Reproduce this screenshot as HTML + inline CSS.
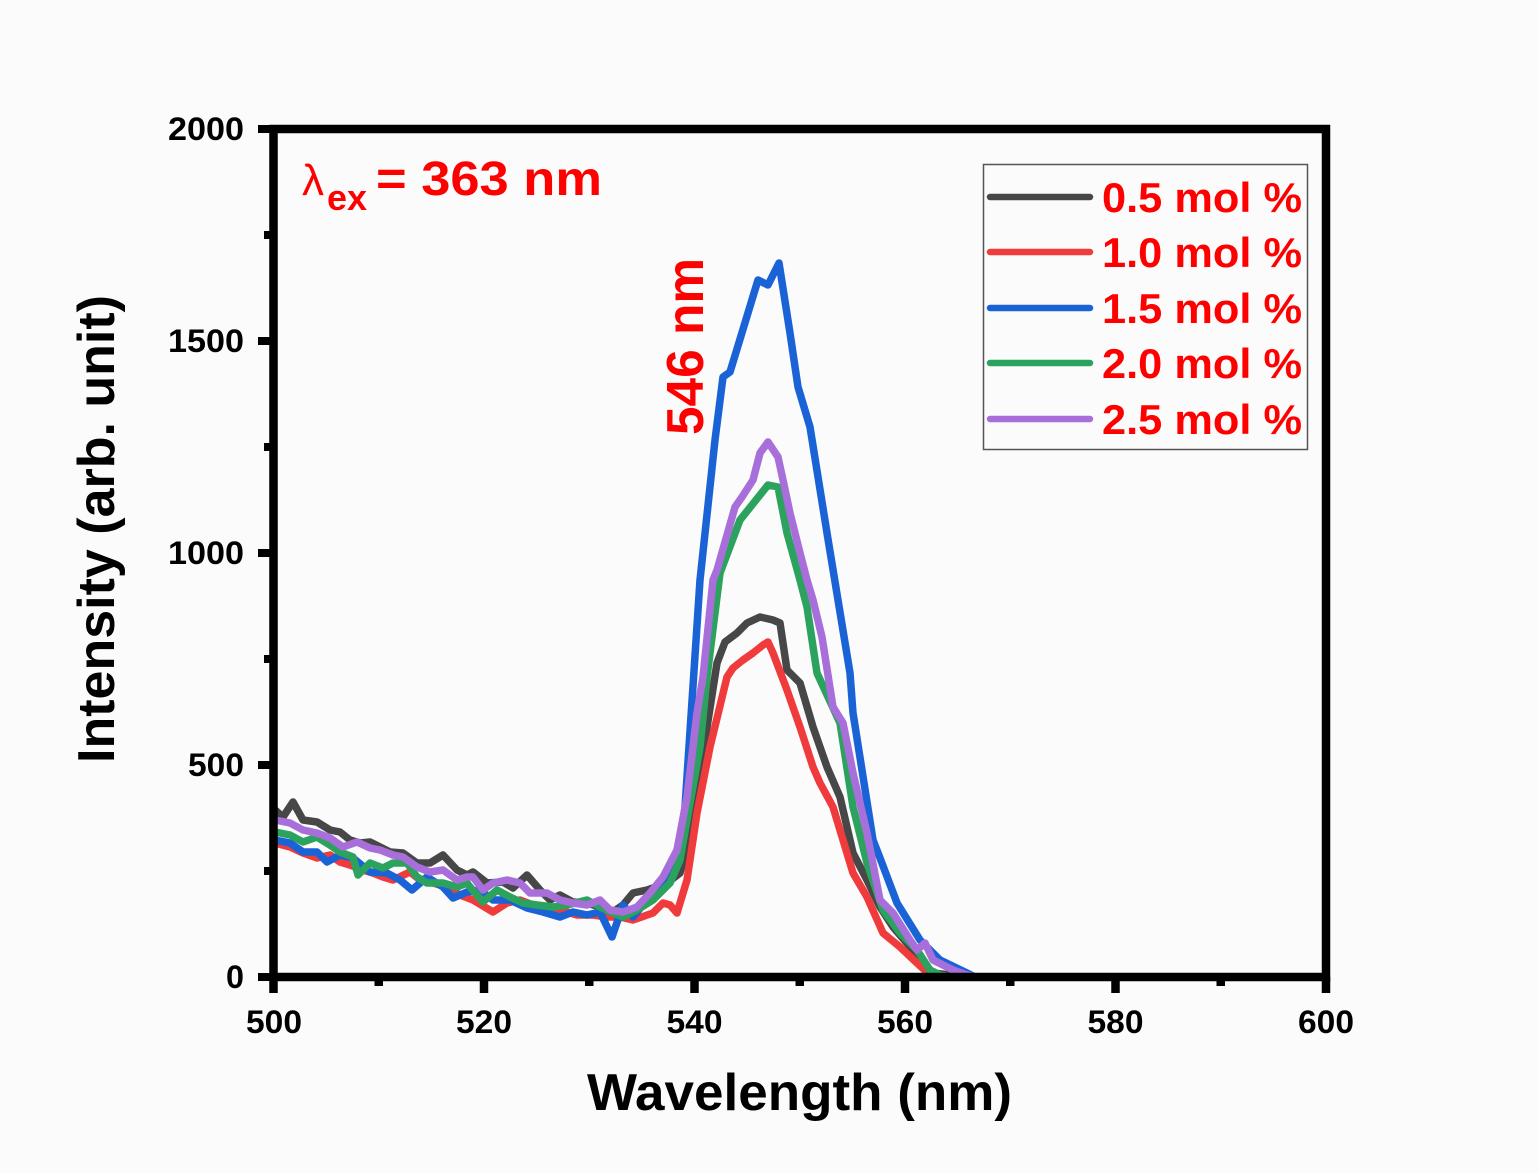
<!DOCTYPE html>
<html>
<head>
<meta charset="utf-8">
<style>
html,body{margin:0;padding:0;background:#fbfbfb;}
svg{display:block;}
text{font-family:"Liberation Sans",Arial,sans-serif;font-weight:bold;}
</style>
</head>
<body>
<svg width="1539" height="1173" viewBox="0 0 1539 1173" xmlns="http://www.w3.org/2000/svg">
<rect x="0" y="0" width="1539" height="1173" fill="#fbfbfb"/>

<!-- curves -->
<g fill="none" stroke-width="7.5" stroke-linejoin="round" stroke-linecap="round">
<polyline stroke="#474747" points="275,810 283,817 293,802 303,820 317,822 330,830 340,832 350,840 360,843 370,842 380,847 390,852 403,853 417,863 430,863 443,855 457,870 467,875 473,872 487,883 503,882 513,888 527,875 540,890 550,900 560,895 573,902 587,903 600,907 613,912 623,905 633,893 647,890 667,883 680,873 690,837 703,753 717,663 725,642 737,633 747,623 760,617 773,620 780,623 787,670 800,683 813,727 827,767 840,797 853,853 867,880 880,907 893,927 913,950 927,967 933,973 950,975 970,977"/>
<polyline stroke="#ef3b3b" points="275,843 290,847 303,853 317,858 330,855 340,862 350,865 363,870 373,873 383,877 393,880 410,872 420,880 433,883 447,887 460,895 473,900 493,912 507,903 520,900 533,905 547,907 560,910 577,915 593,915 607,917 620,917 633,920 653,913 663,903 670,905 677,913 687,880 697,813 710,747 727,677 733,668 743,660 753,653 763,645 768,642 773,653 787,690 800,727 813,767 820,783 833,807 853,873 867,897 883,933 900,947 917,963 930,975 940,977"/>
<polyline stroke="#1a63d6" points="275,840 290,843 303,852 317,852 327,862 340,855 353,858 370,872 387,873 400,880 412,890 427,877 443,887 453,898 467,892 480,890 493,900 510,900 527,908 543,912 560,917 573,912 587,915 600,912 612,937 623,905 633,917 647,900 660,887 672,862 680,845 685,807 700,580 715,440 723,377 730,372 758,280 768,285 779,263 790,333 798,387 810,427 827,533 838,600 850,673 853,713 873,840 880,858 897,903 920,940 940,960 967,973 975,977"/>
<polyline stroke="#2ba35e" points="275,832 290,835 303,842 317,837 330,845 340,852 353,857 358,875 370,863 383,868 393,863 407,863 417,877 427,883 443,883 457,887 467,883 470,887 483,902 497,890 510,897 523,903 537,905 553,907 567,905 587,900 600,907 613,913 623,917 637,910 653,900 670,883 680,860 684,837 700,747 707,677 720,573 740,520 768,485 778,487 787,533 800,580 807,607 817,673 840,723 853,807 867,863 883,910 900,933 917,950 930,970 940,975 950,977"/>
<polyline stroke="#a86fdb" points="275,820 290,823 303,830 317,833 330,838 343,847 357,842 370,848 380,850 393,855 403,857 417,867 430,872 443,870 457,880 467,877 473,877 483,890 493,883 507,880 520,883 530,893 547,893 560,900 573,903 587,905 600,900 610,910 623,912 637,907 650,893 663,877 677,850 687,797 697,713 703,677 713,580 717,570 735,507 742,497 753,480 760,453 768,442 778,457 783,480 790,513 800,553 807,580 813,600 822,637 833,707 843,723 853,773 867,833 880,900 893,913 910,940 917,950 925,943 933,960 953,970 967,975 975,977"/>
</g>

<!-- axes frame -->
<rect x="273.5" y="129" width="1052.5" height="848" fill="none" stroke="#000" stroke-width="8.5"/>

<!-- y ticks -->
<g stroke="#000" stroke-width="8">
<line x1="258" y1="977" x2="274" y2="977"/>
<line x1="258" y1="765" x2="274" y2="765"/>
<line x1="258" y1="553" x2="274" y2="553"/>
<line x1="258" y1="341" x2="274" y2="341"/>
<line x1="258" y1="129" x2="274" y2="129"/>
<line x1="264" y1="871" x2="274" y2="871"/>
<line x1="264" y1="659" x2="274" y2="659"/>
<line x1="264" y1="447" x2="274" y2="447"/>
<line x1="264" y1="235" x2="274" y2="235"/>
</g>
<!-- x ticks -->
<g stroke="#000" stroke-width="8.5">
<line x1="273.5" y1="977" x2="273.5" y2="993"/>
<line x1="484" y1="977" x2="484" y2="993"/>
<line x1="694.5" y1="977" x2="694.5" y2="993"/>
<line x1="905" y1="977" x2="905" y2="993"/>
<line x1="1115.5" y1="977" x2="1115.5" y2="993"/>
<line x1="1326" y1="977" x2="1326" y2="993"/>
<line x1="378.75" y1="977" x2="378.75" y2="986"/>
<line x1="589.25" y1="977" x2="589.25" y2="986"/>
<line x1="799.75" y1="977" x2="799.75" y2="986"/>
<line x1="1010.25" y1="977" x2="1010.25" y2="986"/>
<line x1="1220.75" y1="977" x2="1220.75" y2="986"/>
</g>

<!-- y tick labels -->
<g font-size="32" fill="#000" text-anchor="end">
<text x="244" y="988" textLength="18" lengthAdjust="spacingAndGlyphs">0</text>
<text x="244" y="776" textLength="56" lengthAdjust="spacingAndGlyphs">500</text>
<text x="244" y="564" textLength="76" lengthAdjust="spacingAndGlyphs">1000</text>
<text x="244" y="352" textLength="76" lengthAdjust="spacingAndGlyphs">1500</text>
<text x="244" y="140" textLength="76" lengthAdjust="spacingAndGlyphs">2000</text>
</g>
<!-- x tick labels -->
<g font-size="32" fill="#000" text-anchor="middle">
<text x="274" y="1033" textLength="56" lengthAdjust="spacingAndGlyphs">500</text>
<text x="484" y="1033" textLength="56" lengthAdjust="spacingAndGlyphs">520</text>
<text x="694.5" y="1033" textLength="56" lengthAdjust="spacingAndGlyphs">540</text>
<text x="905" y="1033" textLength="56" lengthAdjust="spacingAndGlyphs">560</text>
<text x="1115.5" y="1033" textLength="56" lengthAdjust="spacingAndGlyphs">580</text>
<text x="1326" y="1033" textLength="56" lengthAdjust="spacingAndGlyphs">600</text>
</g>

<!-- axis titles -->
<text x="587" y="1110" font-size="52" fill="#000" textLength="425" lengthAdjust="spacingAndGlyphs">Wavelength (nm)</text>
<text transform="translate(114,763) rotate(-90)" x="0" y="0" font-size="52" fill="#000" textLength="468" lengthAdjust="spacingAndGlyphs">Intensity (arb. unit)</text>

<!-- annotation -->
<text x="302" y="195" font-size="44" fill="#ff0000" style="font-weight:normal">λ</text>
<text x="327" y="210" font-size="36" fill="#ff0000" textLength="40" lengthAdjust="spacingAndGlyphs">ex</text>
<text x="376" y="195" font-size="48" fill="#ff0000" textLength="226" lengthAdjust="spacingAndGlyphs">= 363 nm</text>
<text transform="translate(703,435) rotate(-90)" x="0" y="0" font-size="52" fill="#ff0000" textLength="177" lengthAdjust="spacingAndGlyphs">546 nm</text>

<!-- legend -->
<rect x="983.5" y="164.5" width="324" height="285" fill="none" stroke="#555" stroke-width="1.5"/>
<g stroke-width="6.5" stroke-linecap="round">
<line x1="990" y1="197" x2="1090" y2="197" stroke="#474747"/>
<line x1="990" y1="252" x2="1090" y2="252" stroke="#ef3b3b"/>
<line x1="990" y1="308" x2="1090" y2="308" stroke="#1a63d6"/>
<line x1="990" y1="363" x2="1090" y2="363" stroke="#2ba35e"/>
<line x1="990" y1="419" x2="1090" y2="419" stroke="#a86fdb"/>
</g>
<g font-size="42" fill="#ff0000">
<text x="1102" y="212" textLength="200" lengthAdjust="spacingAndGlyphs">0.5 mol %</text>
<text x="1102" y="267" textLength="200" lengthAdjust="spacingAndGlyphs">1.0 mol %</text>
<text x="1102" y="323" textLength="200" lengthAdjust="spacingAndGlyphs">1.5 mol %</text>
<text x="1102" y="378" textLength="200" lengthAdjust="spacingAndGlyphs">2.0 mol %</text>
<text x="1102" y="434" textLength="200" lengthAdjust="spacingAndGlyphs">2.5 mol %</text>
</g>
</svg>
</body>
</html>
